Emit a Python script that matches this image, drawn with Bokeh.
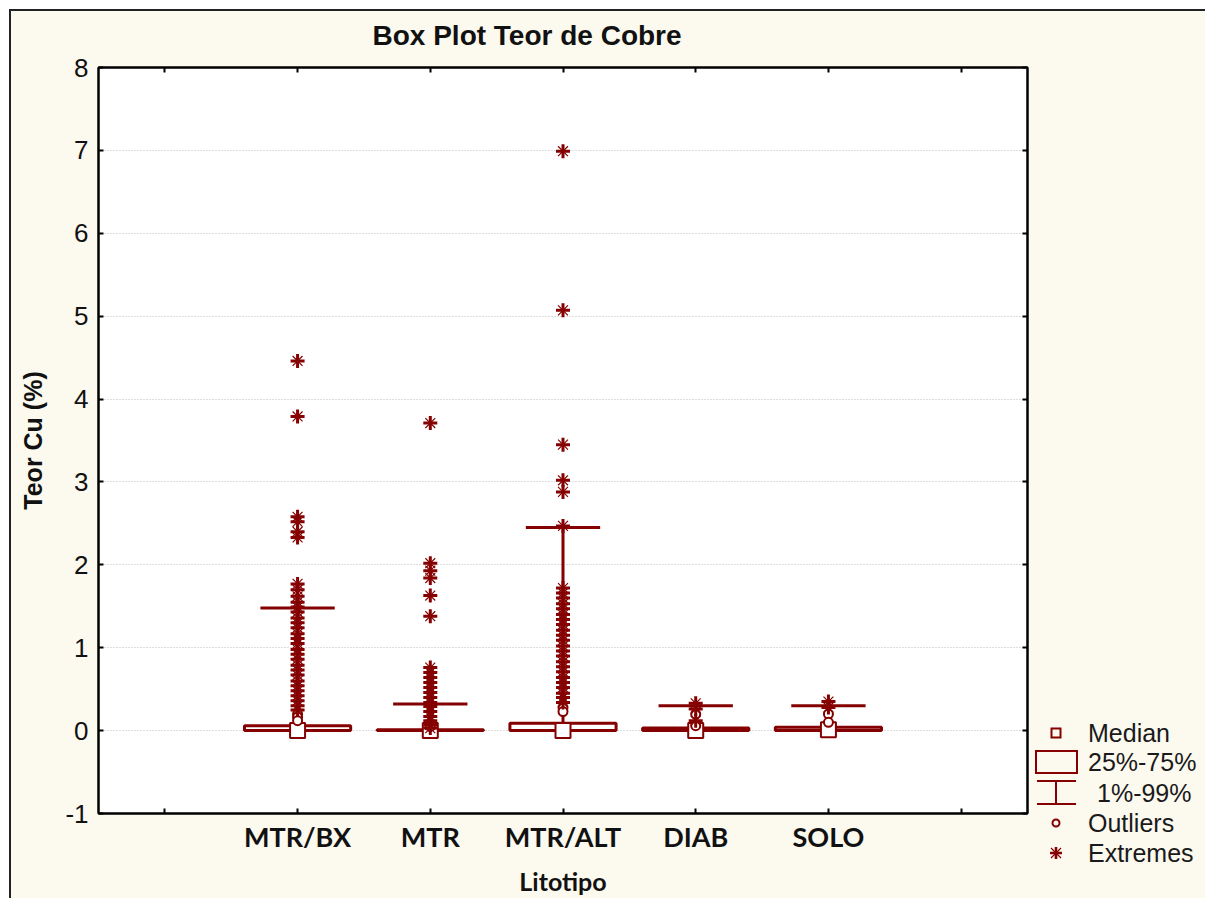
from bokeh.plotting import figure
from bokeh.models import ColumnDataSource, Range1d, FixedTicker, LinearAxis, Div
from bokeh.layouts import row
from bokeh.transform import dodge
from bokeh.embed import file_html
from bokeh.resources import INLINE

# ---------------- data ----------------
categories = ["MTR/BX", "MTR", "MTR/ALT", "DIAB", "SOLO"]
median = [0.0, 0.0, 0.0, 0.0, 0.01]
q25 = [0.0, 0.0, 0.0, 0.0, 0.0]
q75 = [0.06, 0.01, 0.09, 0.03, 0.04]
p01 = [0.0, 0.0, 0.0, 0.0, 0.0]
p99 = [1.48, 0.32, 2.45, 0.30, 0.30]

extremes_mtrbx = [4.46, 3.79, 2.58, 2.52, 2.40, 2.33, 1.77, 1.70, 1.62, 1.55, 1.49,
                  1.43, 1.36, 1.30, 1.24, 1.17, 1.11, 1.05, 0.98, 0.92, 0.86, 0.79,
                  0.73, 0.67, 0.60, 0.54, 0.48, 0.42, 0.36, 0.30, 0.25]
outliers_mtrbx = [0.20, 0.16, 0.12]
extremes_mtr = [3.71, 2.02, 1.93, 1.84, 1.63, 1.38, 0.76, 0.70, 0.64, 0.58, 0.52,
                0.46, 0.40, 0.34, 0.29, 0.23, 0.17, 0.12, 0.07, 0.03]
outliers_mtr = [0.05]
extremes_mtralt = [6.99, 5.07, 3.45, 3.02, 2.88, 2.47, 1.72, 1.66, 1.60, 1.53, 1.47,
                   1.40, 1.34, 1.28, 1.21, 1.15, 1.09, 1.02, 0.96, 0.90, 0.83, 0.77,
                   0.71, 0.64, 0.58, 0.52, 0.45, 0.40, 0.34]
outliers_mtralt = [0.28, 0.23]
extremes_diab = [0.33, 0.26, 0.12]
outliers_diab = [0.20, 0.06]
extremes_solo = [0.35, 0.28]
outliers_solo = [0.20, 0.10]

y_ticks = [-1, 0, 1, 2, 3, 4, 5, 6, 7, 8]
y_tick_labels = ["-1", "0", "1", "2", "3", "4", "5", "6", "7", "8"]
legend_labels = ["Median", "25%-75%", "1%-99%", "Outliers", "Extremes"]

# ---------------- styling ----------------
MAROON = "#850000"
CREAM = "#FCF9EF"
AXIS_FONT = "Liberation Sans"
CAT_FONT = "Lato"
H = 887
PW = 1020
LW = 174

xpos = [i + 2 for i in range(len(categories))]
x_ticks = [1] + xpos + [xpos[-1] + 1]

ext_lists = [extremes_mtrbx, extremes_mtr, extremes_mtralt, extremes_diab, extremes_solo]
out_lists = [outliers_mtrbx, outliers_mtr, outliers_mtralt, outliers_diab, outliers_solo]
ext_x, ext_y, out_x, out_y = [], [], [], []
for xp, lst in zip(xpos, ext_lists):
    ext_x += [xp] * len(lst)
    ext_y += lst
for xp, lst in zip(xpos, out_lists):
    out_x += [xp] * len(lst)
    out_y += lst

box_src = ColumnDataSource(dict(x=xpos, med=median, q1=q25, q3=q75, lo=p01, hi=p99))
ext_src = ColumnDataSource(dict(x=ext_x, y=ext_y))
out_src = ColumnDataSource(dict(x=out_x, y=out_y))

p = figure(width=PW, height=H, x_range=Range1d(0.5, 7.5), y_range=Range1d(-1, 8),
           output_backend="svg", toolbar_location=None, x_axis_location=None,
           min_border_left=87, min_border_right=4, min_border_top=56, min_border_bottom=85,
           background_fill_color="white", border_fill_color=CREAM,
           outline_line_color="black", outline_line_width=2)

p.title.text = "Box Plot Teor de Cobre"
p.title.text_font = AXIS_FONT
p.title.text_font_size = "28px"
p.title.text_font_style = "bold"
p.title.text_color = "#111111"
p.title.align = "left"
p.title.offset = 274
p.title.standoff = 10


def tick_only_axis(ticks, tick_out=0):
    ax = LinearAxis(ticker=FixedTicker(ticks=ticks), major_label_text_font_size="1px",
                    major_label_text_color=None, major_label_standoff=0)
    ax.major_tick_in = 5
    ax.major_tick_out = tick_out
    ax.minor_tick_line_color = None
    ax.axis_line_color = "black"
    ax.axis_line_width = 2
    ax.major_tick_line_color = "black"
    ax.major_tick_line_width = 2
    return ax


# bottom: tick marks at every position (nearest the frame), then the category labels
bottom_ticks = tick_only_axis(x_ticks)
p.add_layout(bottom_ticks, "below")
cat_axis = LinearAxis(ticker=FixedTicker(ticks=xpos),
                      major_label_overrides={xp: c for xp, c in zip(xpos, categories)},
                      axis_line_color=None, major_tick_line_color=None,
                      minor_tick_line_color=None)
cat_axis.major_label_text_font = CAT_FONT
cat_axis.major_label_text_font_style = "bold"
cat_axis.major_label_text_font_size = "27px"
cat_axis.major_label_text_color = "#111111"
cat_axis.major_label_standoff = 0
cat_axis.axis_label = "Litotipo"
cat_axis.axis_label_text_font = CAT_FONT
cat_axis.axis_label_text_font_style = "bold"
cat_axis.axis_label_text_font_size = "25px"
cat_axis.axis_label_text_color = "#111111"
cat_axis.axis_label_standoff = 10
p.add_layout(cat_axis, "below")

p.yaxis.ticker = FixedTicker(ticks=y_ticks)
p.yaxis.major_label_overrides = dict(zip(y_ticks, y_tick_labels))
p.yaxis.major_label_text_font = AXIS_FONT
p.yaxis.major_label_text_font_size = "26px"
p.yaxis.major_label_text_color = "#111111"
p.yaxis.major_label_standoff = 10
p.yaxis.axis_label = "Teor Cu (%)"
p.yaxis.axis_label_text_font = AXIS_FONT
p.yaxis.axis_label_text_font_style = "bold"
p.yaxis.axis_label_text_font_size = "25px"
p.yaxis.axis_label_text_color = "#111111"
p.yaxis.axis_label_standoff = 15
p.yaxis.major_tick_in = 5
p.yaxis.major_tick_out = 0
p.yaxis.minor_tick_line_color = None
p.yaxis.axis_line_color = "black"
p.yaxis.axis_line_width = 2
p.yaxis.major_tick_line_color = "black"
p.yaxis.major_tick_line_width = 2

top_axis = tick_only_axis(x_ticks)
p.add_layout(top_axis, "above")
# invisible spacer between the top ticks and the title
top_spacer = tick_only_axis(x_ticks, tick_out=12)
top_spacer.axis_line_color = None
top_spacer.major_tick_line_color = None
p.add_layout(top_spacer, "above")
right_axis = tick_only_axis(y_ticks)
p.add_layout(right_axis, "right")

p.xgrid.visible = False
p.ygrid.ticker = FixedTicker(ticks=y_ticks)
p.ygrid.grid_line_color = "#bdbdbd"
p.ygrid.grid_line_dash = "1 2"
p.ygrid.grid_line_width = 1

# box plot glyphs
p.segment(x0="x", y0="lo", x1="x", y1="hi", source=box_src, line_color=MAROON, line_width=3)
p.segment(x0=dodge("x", -0.28), y0="hi", x1=dodge("x", 0.28), y1="hi", source=box_src,
          line_color=MAROON, line_width=3)
p.segment(x0=dodge("x", -0.28), y0="lo", x1=dodge("x", 0.28), y1="lo", source=box_src,
          line_color=MAROON, line_width=3)
p.vbar(x="x", width=0.8, bottom="q1", top="q3", source=box_src,
       fill_color="white", line_color=MAROON, line_width=3)
p.scatter(x="x", y="med", source=box_src, marker="square", size=15,
          fill_color="white", line_color=MAROON, line_width=2)
p.scatter(x="x", y="y", source=out_src, marker="circle", size=9,
          fill_color="white", line_color=MAROON, line_width=2)
p.scatter(x="x", y="y", source=ext_src, marker="x", size=14,
          line_color=MAROON, line_width=1.2)
p.scatter(x="x", y="y", source=ext_src, marker="cross", size=14,
          line_color=MAROON, line_width=3)

# ---------------- legend panel (outside the plot frame) ----------------
kx = 25
row_y = [722, 751, 782, 812, 842]
text_x = [57, 57, 66, 57, 57]
parts = [
    f'<svg xmlns="http://www.w3.org/2000/svg" width="{LW}" height="{H - 8}" '
    f'style="display:block;background:{CREAM}">',
    # median key
    f'<rect x="{kx - 4.5}" y="{row_y[0] - 4.5}" width="9" height="9" fill="none" '
    f'stroke="{MAROON}" stroke-width="2"/>',
    # 25%-75% key
    f'<rect x="5" y="{row_y[1] - 11}" width="41" height="22" fill="none" '
    f'stroke="{MAROON}" stroke-width="2"/>',
    # 1%-99% key
    f'<path d="M6 {row_y[2] - 12} H45 M6 {row_y[2] + 11} H45 M{kx} {row_y[2] - 12} V{row_y[2] + 11}" '
    f'stroke="{MAROON}" stroke-width="2" fill="none"/>',
    # outliers key
    f'<circle cx="{kx}" cy="{row_y[3]}" r="3.5" fill="none" stroke="{MAROON}" stroke-width="2"/>',
    # extremes key
    f'<path d="M{kx - 5} {row_y[4] - 5} L{kx + 5} {row_y[4] + 5} M{kx - 5} {row_y[4] + 5} '
    f'L{kx + 5} {row_y[4] - 5}" stroke="{MAROON}" stroke-width="1.2"/>',
    f'<path d="M{kx - 6} {row_y[4]} H{kx + 6} M{kx} {row_y[4] - 6} V{row_y[4] + 6}" '
    f'stroke="{MAROON}" stroke-width="2.6"/>',
]
for lab, tx, ty in zip(legend_labels, text_x, row_y):
    parts.append(f'<text x="{tx}" y="{ty}" dominant-baseline="central" '
                 f'font-family="Liberation Sans" font-size="25px" fill="#1a1a1a">{lab}</text>')
parts.append('</svg>')
legend_div = Div(text="".join(parts), width=LW, height=H,
                 styles={"background-color": CREAM, "margin": "0", "padding": "0",
                         "overflow": "hidden", "line-height": "0"})

layout = row(p, legend_div, styles={"margin-left": "9px", "margin-top": "9px",
                                    "border-left": "2px solid #222222",
                                    "border-top": "2px solid #222222",
                                    "overflow": "hidden",
                                    "background-color": CREAM})

open("out.html", "w").write(file_html(layout, INLINE))
